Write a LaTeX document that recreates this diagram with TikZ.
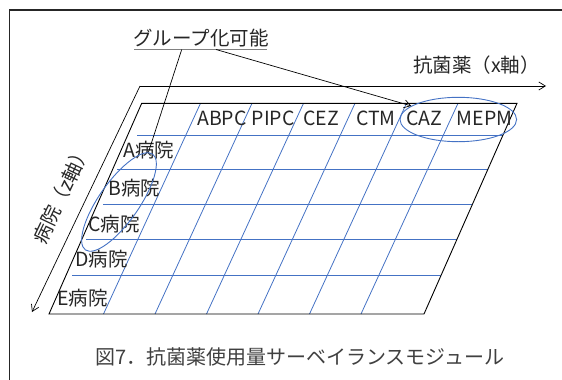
\documentclass[tikz,border=0pt]{standalone}
\usepackage{fontspec}
\newfontfamily\jp{Noto Sans CJK JP}
\usetikzlibrary{arrows.meta,shapes.geometric}
\definecolor{gridblue}{RGB}{68,114,196}
\begin{document}
\begin{tikzpicture}[x=1pt,y=-1pt,
  lbl/.style={font=\jp\fontsize{19.5}{22}\selectfont, text=black!85, inner sep=0pt},
  caplbl/.style={font=\jp\fontsize{20}{24}\selectfont, text=black!75, inner sep=0pt},
  gridline/.style={gridblue, line width=0.8pt},
  edgeline/.style={black, line width=0.9pt},
  barb/.style={-{Straight Barb[length=6.5pt,width=8pt]}, line width=0.7pt},
  grp/.style={ellipse, draw=gridblue, line width=0.9pt, inner sep=0pt}
]
\useasboundingbox (0,0) rectangle (562,380);
\clip (0,0) rectangle (562,380);
% frame
\draw[line width=1.3pt, black!85] (9.5,10) rectangle (580,400);
% grid
\foreach \yy/\xs in {135/137, 169.5/117, 204.5/103, 239.5/86, 275/72}
  \draw[gridline] (\xs,\yy) -- ({517-93*(\yy-103.3)/210.7},\yy);
\foreach \xt in {200.5,252,303.5,355,406.5,458}
  \draw[gridline] (\xt,103.3) -- (\xt-97,314);
% parallelogram
\draw[edgeline] (141.7,103.3) -- (517,103.3) -- (424,314) -- (49,314) -- cycle;
% axes
\coordinate (o) at (140,86);
\coordinate (xe) at (546,86);
\coordinate (ze) at (32,312);
\draw[barb] (o) -- (xe);
\draw[barb] (o) -- (ze);
% axis labels
\node[lbl, anchor=base west] (xlab) at (413,72) {抗菌薬（x軸）};
\node[lbl, anchor=center, rotate=64.5] (zlab) at (61.5,194) {病院（z軸）};
% column labels
\node[lbl, anchor=base west] (abpc) at (197,125) {ABPC};
\node[lbl, anchor=base west] (pipc) at (251.7,125) {PIPC};
\node[lbl, anchor=base west] (cez) at (303.3,125) {CEZ};
\node[lbl, anchor=base west] (ctm) at (356,125) {CTM};
\node[lbl, anchor=base west] (caz) at (406,125) {CAZ};
\node[lbl, anchor=base west] (mepm) at (456.7,125) {MEPM};
% row labels
\node[lbl, anchor=base west] (ha) at (123.3,157) {A病院};
\node[lbl, anchor=base west] (hb) at (108.3,195) {B病院};
\node[lbl, anchor=base west] (hc) at (88.3,231.7) {C病院};
\node[lbl, anchor=base west] (hd) at (75,266.7) {D病院};
\node[lbl, anchor=base west] (he) at (57,305) {E病院};
% group ellipses
\node[grp, minimum width=116.6pt, minimum height=44.4pt] (grpx) at (458.3,119.5) {};
\node[grp, minimum width=117pt, minimum height=40pt, rotate=55] (grpz) at (119,202) {};
% group label
\node[lbl, anchor=base west] (glab) at (133,45) {グループ化可能};
\draw[black!50, line width=1.2pt] (134,49.5) -- (267,49.5);
\coordinate (g1) at (181.7,49.5);
\coordinate (g2) at (216,49.5);
\coordinate (zend) at (148.5,152);
\draw[line width=0.7pt] (g1) -- (zend);
\draw[barb] (g2) -- (grpx);
% caption
\node[caplbl, anchor=base west] (cap) at (95,364) {図7．抗菌薬使用量サーベイランスモジュール};
\end{tikzpicture}
\end{document}
